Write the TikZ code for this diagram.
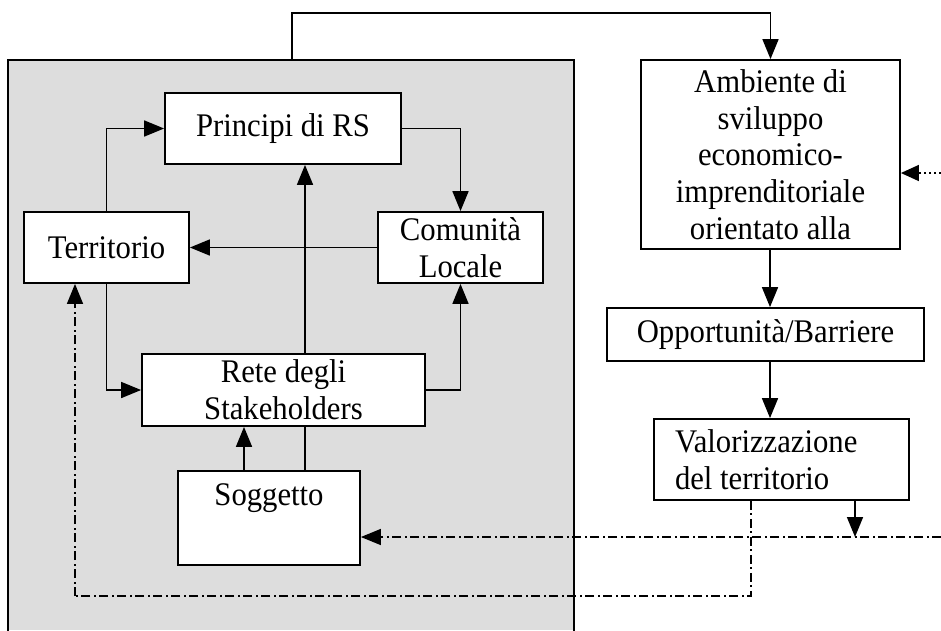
\documentclass[tikz,border=0pt]{standalone}
\usepackage{fontspec}
\setmainfont{Liberation Serif}[FakeStretch=0.93]
\usetikzlibrary{arrows.meta}
\definecolor{panelgray}{RGB}{221,221,221}
\begin{document}
\begin{tikzpicture}[x=1pt,y=-1pt,
  box/.style={draw, fill=white, line width=1.8pt, inner sep=0pt, align=center,
    font=\fontsize{33}{36.7}\selectfont},
  tip/.style={-{Triangle[length=20pt,width=16pt]}},
  arr/.style={tip, line width=1.7pt},
  plain/.style={line width=1.7pt},
  ddot/.style={line width=1.5pt, dash pattern=on 9pt off 3.5pt on 2pt off 3.5pt},
  dotarr/.style={-{Triangle[length=18pt,width=16pt]}, line width=1.5pt, dash pattern=on 2pt off 3pt}]
\useasboundingbox (0,0) rectangle (941,630);
% grey panel
\fill[panelgray] (8,60) rectangle (574,630);
\draw[line width=2.8pt] (8,632) -- (8,60) -- (574,60) -- (574,632);
% nodes
\node[box, minimum width=236pt, minimum height=71pt] (princ) at (283,128.5) {Principi di RS};
\node[box, minimum width=165pt, minimum height=71pt] (terr) at (106.5,247.5) {Territorio};
\node[box, minimum width=165pt, minimum height=71pt] (comun) at (460.5,247.5) {Comunità\\Locale};
\node[box, minimum width=283pt, minimum height=72pt] (rete) at (283.5,390) {Rete degli\\Stakeholders};
\node[box, minimum width=182pt, minimum height=94pt] (sogg) at (269,518) {Soggetto\\\strut};
\node[box, minimum width=259pt, minimum height=189pt] (amb) at (770.5,154.5) {Ambiente di\\sviluppo\\economico-\\imprenditoriale\\orientato alla};
\node[box, minimum width=317pt, minimum height=53pt] (opp) at (765.5,334.5) {Opportunità/Barriere};
\node[box, minimum width=255pt, minimum height=81pt, text width=213pt, align=flush left] (valor) at (781.5,459.5) {Valorizzazione\\del territorio};
% helper coordinates
\coordinate (xmid) at (305,0);
\coordinate (xsog) at (244,0);
\coordinate (xamb) at (770,0);
\coordinate (xv1) at (855,0);
\coordinate (xv2) at (751,0);
\coordinate (ptop) at (292,60);
\coordinate (ttop) at (292,13);
\coordinate (dr) at (941,537);
\coordinate (de) at (941,173);
\coordinate (lowl) at (751,596);
\coordinate (lowr) at (75,596);
\coordinate (xterr) at (75,0);
% left panel connectors
\draw[arr] (princ.east) -| (comun.north);
\draw[arr] (terr.north) |- (princ.west);
\draw[arr] (comun.west) -- (terr.east);
\draw[arr] (rete.north -| xmid) -- (princ.south -| xmid);
\draw[plain] (sogg.north -| xmid) -- (rete.south -| xmid);
\draw[arr] (sogg.north -| xsog) -- (rete.south -| xsog);
\draw[arr] (terr.south) |- (rete.west);
\draw[arr] (rete.east) -| (comun.south);
% top link
\draw[arr] (ptop) -- (ttop) -| (amb.north);
% right column
\draw[arr] (amb.south -| xamb) -- (opp.north -| xamb);
\draw[arr] (opp.south -| xamb) -- (valor.north -| xamb);
\draw[arr] (valor.south -| xv1) -- (dr -| xv1);
% dash-dot lines
\draw[ddot, tip] (dr) -- (dr -| sogg.east);
\draw[ddot] (valor.south -| xv2) -- (lowl) -- (lowr);
\draw[ddot, tip] (lowr) -- (terr.south -| xterr);
\draw[dotarr] (de) -- (de -| amb.east);
\end{tikzpicture}
\end{document}
